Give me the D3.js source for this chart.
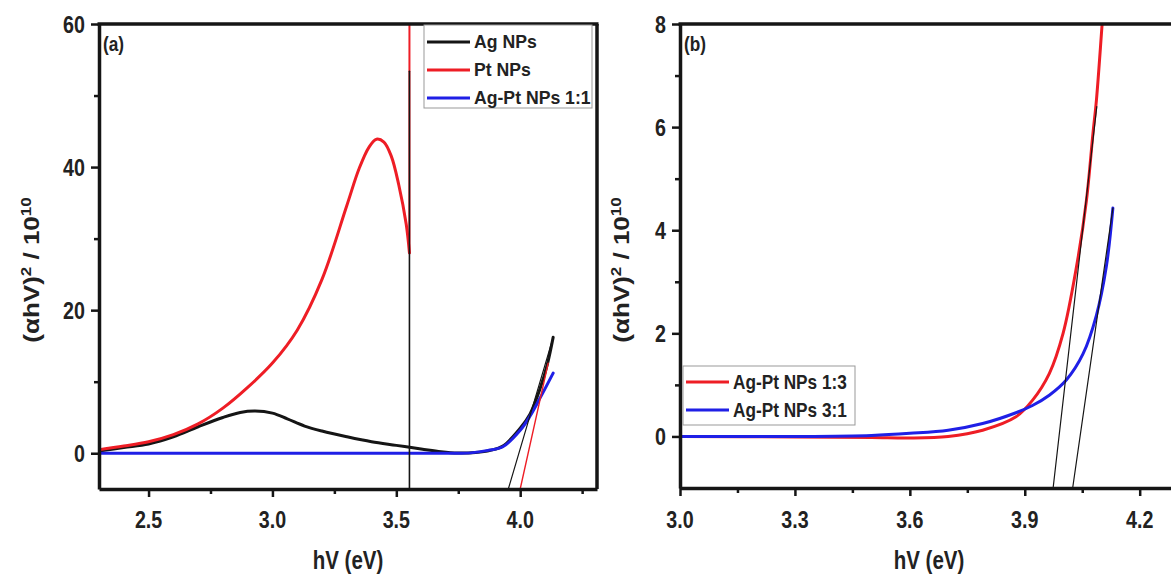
<!DOCTYPE html>
<html>
<head>
<meta charset="utf-8">
<script src="https://cdn.jsdelivr.net/npm/d3@7"></script>
<style>
  html, body { margin: 0; padding: 0; background: #fff; }
  svg { display: block; font-family: "Liberation Sans", Arial, sans-serif; font-weight: bold; }
</style>
</head>
<body>
<svg id="chart"></svg>
<script>
const width = 1171;
const height = 575;

// ---- panel (a) data ----
const agX = [2.30, 2.40, 2.50, 2.60, 2.70, 2.80, 2.87, 2.93, 3.00, 3.06, 3.13, 3.20, 3.30, 3.40, 3.50, 3.60, 3.68, 3.75, 3.82, 3.88, 3.93, 4.00, 4.04, 4.08, 4.11, 4.133];
const agY = [0.3, 0.8, 1.3, 2.3, 3.7, 5.0, 5.7, 5.9, 5.6, 4.8, 3.8, 3.1, 2.3, 1.6, 1.1, 0.6, 0.2, 0.02, 0.1, 0.4, 1.0, 3.5, 5.5, 9.0, 12.5, 16.2];
const ptX = [2.30, 2.40, 2.50, 2.60, 2.70, 2.80, 2.90, 3.00, 3.10, 3.20, 3.30, 3.35, 3.39, 3.42, 3.45, 3.48, 3.51, 3.54, 3.553];
const ptY = [0.5, 1.0, 1.6, 2.6, 4.1, 6.3, 9.2, 12.6, 17.2, 24.3, 34.6, 39.8, 42.8, 43.9, 43.5, 41.5, 37.5, 32.0, 28.0];
const ptJumpY = [28.0, 70];          // vertical rise of Pt NPs at 3.553 eV
const agPt11X = [2.30, 2.60, 3.00, 3.40, 3.60, 3.75, 3.80, 3.87, 3.93, 4.00, 4.04, 4.08, 4.133];
const agPt11Y = [0, 0, 0, 0, 0, 0, 0.05, 0.4, 0.9, 3.2, 5.2, 7.7, 11.2];
const markerX = 3.553;               // thin black vertical line
const markerY = [-5, 53.4];
const agTangent = [[3.952, -5], [4.133, 16.2]];
const ptTangent = [[4.0, -5], [4.113, 12.6]];

// ---- panel (b) data ----
const agPt13X = [3.00, 3.30, 3.50, 3.60, 3.70, 3.79, 3.877, 3.92, 3.964, 4.00, 4.035, 4.061, 4.078, 4.087, 4.102, 4.112];
const agPt13Y = [0, -0.01, -0.02, -0.03, 0.0, 0.12, 0.38, 0.7, 1.22, 2.0, 3.29, 4.58, 5.88, 6.52, 8.0, 9.0];
const agPt31X = [3.00, 3.30, 3.50, 3.60, 3.70, 3.79, 3.877, 3.92, 3.964, 4.009, 4.052, 4.087, 4.113, 4.13];
const agPt31Y = [0, 0, 0.02, 0.06, 0.12, 0.25, 0.46, 0.6, 0.8, 1.1, 1.6, 2.35, 3.3, 4.43];
const tangent13 = [[3.974, -1], [4.088, 6.4]];
const tangent31 = [[4.025, -1], [4.13, 4.43]];

// ticks
const aXMajor = [2.5, 3.0, 3.5, 4.0], aXMinor = [2.75, 3.25, 3.75, 4.25];
const aYMajor = [0, 20, 40, 60], aYMinor = [10, 30, 50];
const bXMajor = [3.0, 3.3, 3.6, 3.9, 4.2], bXMinor = [3.15, 3.45, 3.75, 4.05];
const bYMajor = [0, 2, 4, 6, 8], bYMinor = [1, 3, 5, 7];

const BLACK = "#151515", RED = "#ee1d25", BLUE = "#1f1fe6";
const SQ = 0.82; // horizontal squeeze of the original figure's lettering

const svg = d3.select("#chart").attr("width", width).attr("height", height);

function zip(xs, ys) { return xs.map((x, i) => [x, ys[i]]); }

function drawPanel(p) {
    const x = d3.scaleLinear().domain(p.xDomain).range(p.xRange);
    const y = d3.scaleLinear().domain(p.yDomain).range(p.yRange);
    const g = svg.append("g");

    const clipId = "clip-" + p.name;
    svg.append("clipPath").attr("id", clipId).append("rect")
        .attr("x", p.xRange[0]).attr("y", p.yRange[1])
        .attr("width", p.xRange[1] - p.xRange[0]).attr("height", p.yRange[0] - p.yRange[1]);
    const plot = g.append("g").attr("clip-path", `url(#${clipId})`);

    const line = d3.line().x(d => x(d[0])).y(d => y(d[1])).curve(d3.curveCatmullRom.alpha(0.5));
    const straight = d3.line().x(d => x(d[0])).y(d => y(d[1]));

    p.series.forEach(s => {
        plot.append("path")
            .attr("d", s.straight ? straight(s.points) : line(s.points))
            .attr("fill", "none")
            .attr("stroke", s.color)
            .attr("stroke-width", s.width)
            .attr("stroke-linejoin", "round")
            .attr("stroke-linecap", "round");
    });

    // axes: major + minor ticks, labels drawn separately
    g.append("g").attr("transform", `translate(0,${p.yRange[0]})`)
        .call(d3.axisBottom(x).tickValues(p.xMajor).tickSize(8).tickSizeOuter(0).tickFormat(""));
    g.append("g").attr("transform", `translate(0,${p.yRange[0]})`)
        .call(d3.axisBottom(x).tickValues(p.xMinor).tickSize(5).tickSizeOuter(0).tickFormat(""))
        .select(".domain").remove();
    g.append("g").attr("transform", `translate(${p.xRange[0]},0)`)
        .call(d3.axisLeft(y).tickValues(p.yMajor).tickSize(8).tickSizeOuter(0).tickFormat(""));
    g.append("g").attr("transform", `translate(${p.xRange[0]},0)`)
        .call(d3.axisLeft(y).tickValues(p.yMinor).tickSize(5).tickSizeOuter(0).tickFormat(""))
        .select(".domain").remove();
    g.selectAll(".domain").attr("stroke", BLACK).attr("stroke-width", 3.5);
    g.selectAll(".tick line").attr("stroke", BLACK).attr("stroke-width", 2.5);

    // frame top / right
    g.append("line").attr("x1", p.xRange[0] - 1.5).attr("x2", p.xRange[1] + 1.5)
        .attr("y1", p.yRange[1]).attr("y2", p.yRange[1])
        .attr("stroke", BLACK).attr("stroke-width", 3.5);
    g.append("line").attr("x1", p.xRange[1]).attr("x2", p.xRange[1])
        .attr("y1", p.yRange[1]).attr("y2", p.yRange[0])
        .attr("stroke", BLACK).attr("stroke-width", 3.5);

    // tick labels
    g.selectAll(".xlab").data(p.xMajor).enter().append("text")
        .attr("transform", d => `translate(${x(d)},528) scale(${SQ},1)`)
        .attr("text-anchor", "middle").attr("font-size", 24).attr("fill", "#222")
        .text(d => d.toFixed(1));
    g.selectAll(".ylab").data(p.yMajor).enter().append("text")
        .attr("transform", d => `translate(${p.xRange[0] - 14},${y(d) + 8.5}) scale(${SQ},1)`)
        .attr("text-anchor", "end").attr("font-size", 24).attr("fill", "#222")
        .text(d => d);

    // axis titles
    g.append("text")
        .attr("transform", `translate(${(p.xRange[0] + p.xRange[1]) / 2},569) scale(${SQ},1)`)
        .attr("text-anchor", "middle").attr("font-size", 25).attr("fill", "#222")
        .text("hV (eV)");
    const yt = g.append("text")
        .attr("transform", `translate(${p.yTitleX},270) rotate(-90) scale(1,${SQ})`)
        .attr("text-anchor", "middle").attr("font-size", 26).attr("fill", "#222");
    yt.append("tspan").text("(αhV)");
    yt.append("tspan").attr("dy", -10).attr("font-size", 17).text("2");
    yt.append("tspan").attr("dy", 10).text(" / 10");
    yt.append("tspan").attr("dy", -10).attr("font-size", 17).text("10");

    // panel tag
    g.append("text")
        .attr("transform", `translate(${p.xRange[0] + 4},51) scale(${SQ},1)`)
        .attr("font-size", 21).attr("fill", "#222").text(p.tag);

    // legend
    const L = p.legend;
    const lg = g.append("g");
    lg.append("rect").attr("x", L.x).attr("y", L.y).attr("width", L.w).attr("height", L.h)
        .attr("fill", "#fff").attr("stroke", "#999").attr("stroke-width", 1);
    L.items.forEach((it, i) => {
        const yy = L.y + L.first + i * L.step;
        lg.append("line").attr("x1", L.x + 3).attr("x2", L.x + 46)
            .attr("y1", yy).attr("y2", yy)
            .attr("stroke", it.color).attr("stroke-width", 3);
        lg.append("text")
            .attr("transform", `translate(${L.x + 50},${yy + L.base}) scale(${L.sq},1)`)
            .attr("font-size", L.size).attr("fill", "#222").text(it.label);
    });
    return { x, y };
}

drawPanel({
    name: "a", tag: "(a)",
    xDomain: [2.3, 4.31], xRange: [99, 597],
    yDomain: [-5, 60], yRange: [489, 24],
    xMajor: aXMajor, xMinor: aXMinor, yMajor: aYMajor, yMinor: aYMinor,
    yTitleX: 39,
    series: [
        { points: zip(agX, agY), color: BLACK, width: 3 },
        { points: zip(ptX, ptY), color: RED, width: 3 },
        { points: ptJumpY.map(v => [markerX, v]), color: RED, width: 2, straight: true },
        { points: zip(agPt11X, agPt11Y), color: BLUE, width: 3 },
        { points: agTangent, color: BLACK, width: 1.2, straight: true },
        { points: ptTangent, color: RED, width: 1.4, straight: true },
        { points: markerY.map(v => [markerX, v]), color: BLACK, width: 1.6, straight: true }
    ],
    legend: {
        x: 424, y: 25, w: 168, h: 83, first: 17, step: 28, base: 6, size: 18, sq: 0.98,
        items: [
            { label: "Ag NPs", color: BLACK },
            { label: "Pt NPs", color: RED },
            { label: "Ag-Pt NPs 1:1", color: BLUE }
        ]
    }
});

drawPanel({
    name: "b", tag: "(b)",
    xDomain: [3.0, 4.3], xRange: [680, 1178],
    yDomain: [-1, 8], yRange: [488, 24],
    xMajor: bXMajor, xMinor: bXMinor, yMajor: bYMajor, yMinor: bYMinor,
    yTitleX: 629,
    series: [
        { points: zip(agPt13X, agPt13Y), color: RED, width: 3 },
        { points: zip(agPt31X, agPt31Y), color: BLUE, width: 3 },
        { points: tangent13, color: BLACK, width: 1.2, straight: true },
        { points: tangent31, color: BLACK, width: 1.2, straight: true }
    ],
    legend: {
        x: 683, y: 366, w: 172, h: 59, first: 16, step: 28, base: 7, size: 21, sq: SQ,
        items: [
            { label: "Ag-Pt NPs 1:3", color: RED },
            { label: "Ag-Pt NPs 3:1", color: BLUE }
        ]
    }
});
</script>
</body>
</html>
